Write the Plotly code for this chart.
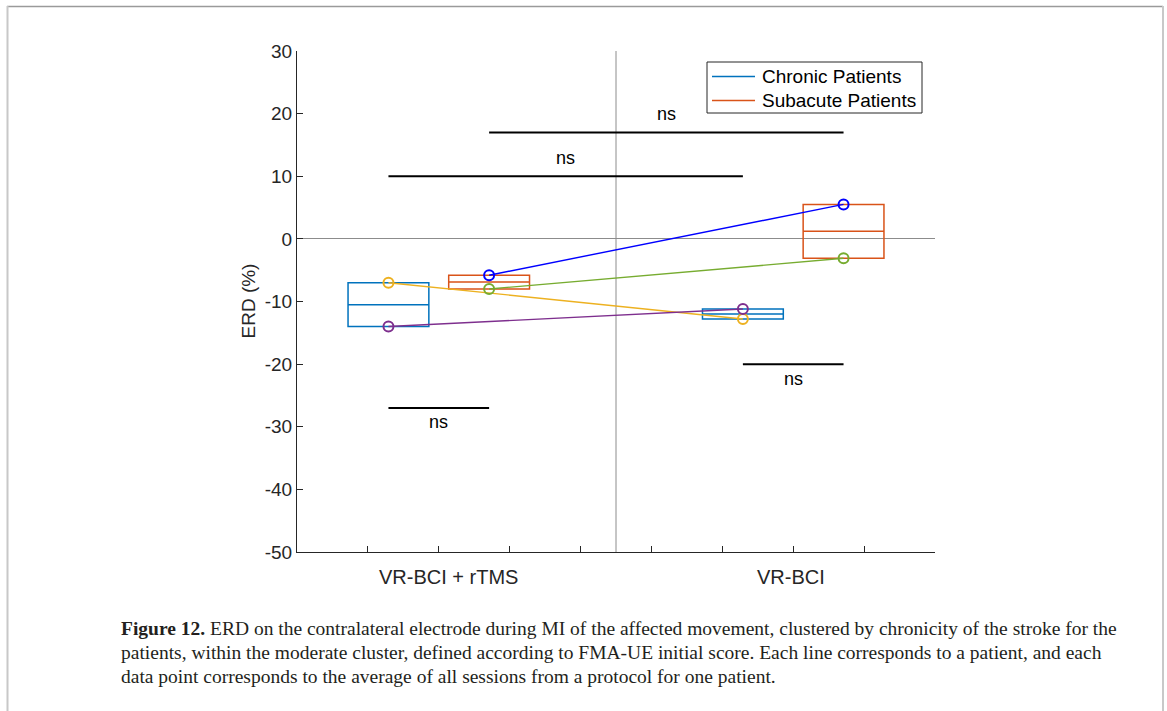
import numpy as np
import plotly.graph_objects as go

# ---------------- data ----------------
protocols = ["VR-BCI + rTMS", "VR-BCI"]
protocol_label_x = [2.14, 6.97]
group_names = ["Chronic Patients", "Subacute Patients"]
group_colors = ["#0072BD", "#D95319"]
chronic_pos = [1.29, 6.29]
subacute_pos = [2.71, 7.71]

# per-patient mean ERD (%) for [VR-BCI + rTMS, VR-BCI]
chronic_patients = {
    "P1": [-7.0, -12.8],
    "P2": [-14.0, -11.2],
}
subacute_patients = {
    "P3": [-5.8, 5.5],
    "P4": [-8.0, -3.1],
}
patient_colors = {"P1": "#EDB120", "P2": "#7E2F8E", "P3": "#0000FF", "P4": "#77AC30"}

# significance bars
sig_x0 = [2.71, 1.29, 1.29, 6.29]
sig_x1 = [7.71, 6.29, 2.71, 7.71]
sig_y = [17.0, 10.0, -27.0, -20.0]
sig_label_y = [19.9, 12.9, -29.2, -22.3]
sig_text = ["ns", "ns", "ns", "ns"]

yticks = list(range(-50, 31, 10))
ytick_text = [str(v) for v in yticks]
xticks = list(range(1, 10))

caption_lines = [
    "<b>Figure 12.</b> ERD on the contralateral electrode during MI of the affected movement, clustered by chronicity of the stroke for the",
    "patients, within the moderate cluster, defined according to FMA-UE initial score. Each line corresponds to a patient, and each",
    "data point corresponds to the average of all sessions from a protocol for one patient.",
]

# ---------------- helpers ----------------
def prctile(vals, p):
    x = np.sort(np.asarray(vals, dtype=float))
    n = len(x)
    pos = (np.arange(1, n + 1) - 0.5) / n * 100
    return float(np.interp(p, pos, x))

W, H = 1167, 711
L, R, T, B = 297, 935, 51, 552
def px_x(px):
    return (px - L) / (R - L)
def px_y(py):
    return (B - py) / (B - T)

SANS = "Liberation Sans, Arial, Helvetica"
SERIF = "Liberation Serif, Times New Roman"

fig = go.Figure()

box_width = 1.14
for gi, (patients, positions) in enumerate([(chronic_patients, chronic_pos), (subacute_patients, subacute_pos)]):
    for pi in range(2):
        vals = [v[pi] for v in patients.values()]
        fig.add_trace(go.Box(
            x=[positions[pi]],
            q1=[prctile(vals, 25)], median=[prctile(vals, 50)], q3=[prctile(vals, 75)],
            lowerfence=[min(vals)], upperfence=[max(vals)],
            width=box_width, whiskerwidth=0.5,
            fillcolor="rgba(0,0,0,0)",
            line=dict(color=group_colors[gi], width=1.5),
            boxpoints=False, showlegend=False, hoverinfo="skip",
        ))

for patients, positions in [(chronic_patients, chronic_pos), (subacute_patients, subacute_pos)]:
    for name, vals in patients.items():
        fig.add_trace(go.Scatter(
            x=positions, y=vals, mode="lines+markers",
            line=dict(color=patient_colors[name], width=1.4),
            marker=dict(symbol="circle-open", size=10, line=dict(width=2, color=patient_colors[name])),
            showlegend=False, hoverinfo="skip",
        ))

shapes = []
shapes.append(dict(type="line", xref="x", yref="paper", x0=4.5, x1=4.5, y0=0, y1=1,
                   line=dict(color="#8c8c8c", width=1), layer="below"))
for x0, x1, y in zip(sig_x0, sig_x1, sig_y):
    shapes.append(dict(type="line", xref="x", yref="y", x0=x0, x1=x1, y0=y, y1=y,
                       line=dict(color="black", width=2)))
# outer frame
shapes.append(dict(type="line", xref="paper", yref="paper", x0=px_x(7), x1=px_x(1163),
                   y0=px_y(6.5), y1=px_y(6.5), line=dict(color="#9a9a9a", width=1.5)))
shapes.append(dict(type="line", xref="paper", yref="paper", x0=px_x(7.5), x1=px_x(7.5),
                   y0=px_y(6), y1=px_y(711), line=dict(color="#c8c8c8", width=2)))
shapes.append(dict(type="line", xref="paper", yref="paper", x0=px_x(1163), x1=px_x(1163),
                   y0=px_y(6), y1=px_y(711), line=dict(color="#c8c8c8", width=2)))

# legend box (drawn manually to match the line-sample layout)
leg_x0, leg_x1, leg_y0, leg_y1 = 707, 922, 62, 113
shapes.append(dict(type="rect", xref="paper", yref="paper", x0=px_x(leg_x0), x1=px_x(leg_x1),
                   y0=px_y(leg_y1), y1=px_y(leg_y0), line=dict(color="#262626", width=1),
                   fillcolor="white"))

annotations = []
for i, (name, col) in enumerate(zip(group_names, group_colors)):
    ry = 76.5 + 24 * i
    shapes.append(dict(type="line", xref="paper", yref="paper", x0=px_x(712), x1=px_x(755),
                       y0=px_y(ry), y1=px_y(ry), line=dict(color=col, width=1.5)))
    annotations.append(dict(x=px_x(760), y=px_y(ry), xref="paper", yref="paper", text=name,
                            showarrow=False, xanchor="left", yanchor="middle",
                            font=dict(family=SANS, size=19, color="black")))

for x0, x1, ly, t in zip(sig_x0, sig_x1, sig_label_y, sig_text):
    annotations.append(dict(x=(x0 + x1) / 2, y=ly, xref="x", yref="y", text=t, showarrow=False,
                            font=dict(family=SANS, size=18, color="black")))
for lab, lx in zip(protocols, protocol_label_x):
    annotations.append(dict(x=lx, y=px_y(577), xref="x", yref="paper", text=lab, showarrow=False,
                            xanchor="center", yanchor="middle",
                            font=dict(family=SANS, size=20, color="#262626")))
annotations.append(dict(x=px_x(248), y=0.5, xref="paper", yref="paper", text="ERD (%)",
                        textangle=-90, showarrow=False, xanchor="center", yanchor="middle",
                        font=dict(family=SANS, size=19, color="#262626")))
for i, line in enumerate(caption_lines):
    annotations.append(dict(x=px_x(119), y=px_y(628 + 24.3 * i), xref="paper", yref="paper",
                            text=line, showarrow=False, xanchor="left", yanchor="middle", align="left",
                            font=dict(family=SERIF, size=19.5, color="#231f20")))

fig.update_layout(
    width=W, height=H,
    margin=dict(l=L, r=W - R, t=T, b=H - B, autoexpand=False),
    paper_bgcolor="white", plot_bgcolor="white",
    boxmode="overlay", showlegend=False,
    shapes=shapes, annotations=annotations,
    xaxis=dict(range=[0, 9], tickvals=xticks, showticklabels=False, ticks="inside", ticklen=6,
               tickcolor="#262626", showline=True, linecolor="#262626", linewidth=1,
               showgrid=False, zeroline=False, fixedrange=True),
    yaxis=dict(range=[-50, 30], tickvals=yticks, ticktext=ytick_text, ticks="inside", ticklen=6,
               tickcolor="#262626", showline=True, linecolor="#262626", linewidth=1,
               showgrid=False, zeroline=True, zerolinecolor="#8c8c8c", zerolinewidth=1,
               tickfont=dict(family=SANS, size=19, color="#262626"),
               fixedrange=True),
)

fig.write_html("out.html")
